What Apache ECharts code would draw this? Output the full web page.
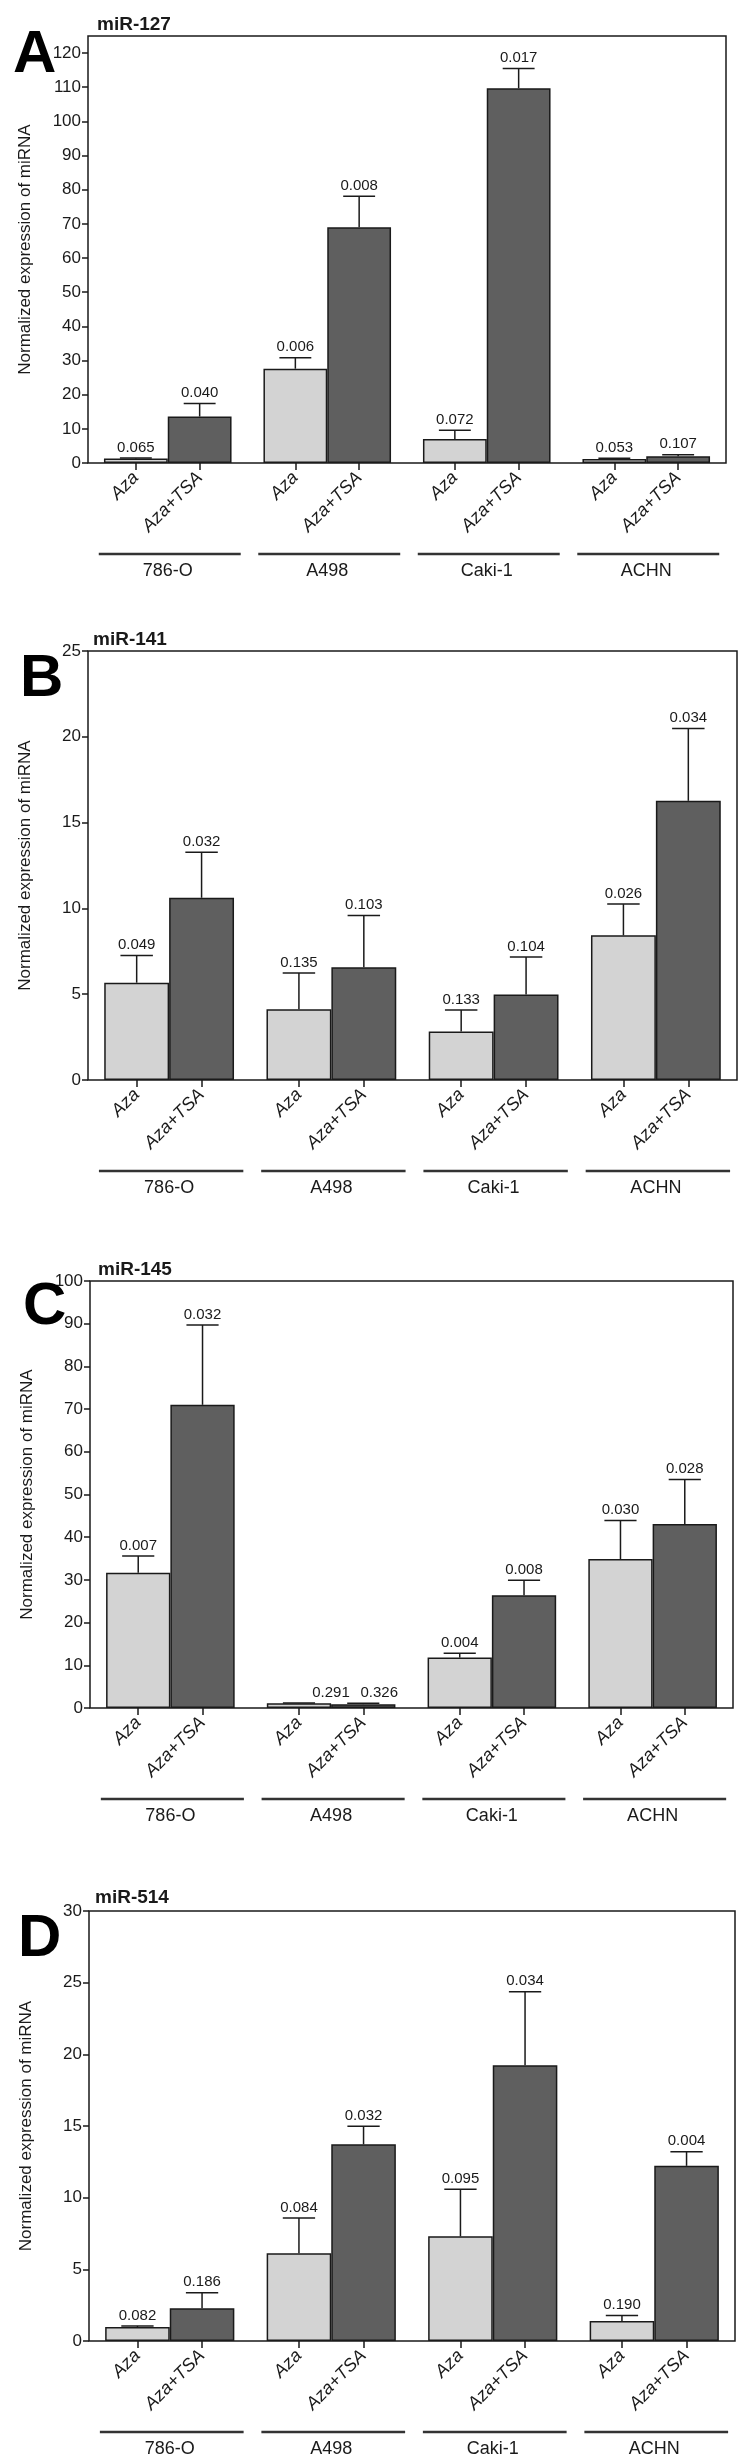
<!DOCTYPE html>
<html>
<head>
<meta charset="utf-8">
<script src="https://cdn.jsdelivr.net/npm/echarts@6/dist/echarts.min.js"></script>
<style>
html,body{margin:0;padding:0;background:#fff;}
#chart{width:744px;height:2462px;}
</style>
</head>
<body>
<div id="chart"></div>
<script>
// ---------- data ----------
const cellLines = ['786-O', 'A498', 'Caki-1', 'ACHN'];
const treatments = ['Aza', 'Aza+TSA'];
const panelLetters = ['A', 'B', 'C', 'D'];
const miRNAs = ['miR-127', 'miR-141', 'miR-145', 'miR-514'];
const yMax = [125, 25, 100, 30];
const yStep = [10, 5, 10, 5];

// miR-127
const aza127 = [1.3, 27.6, 7.0, 1.2];
const aza127Sd = [0.2, 3.2, 2.6, 0.2];
const tsa127 = [13.6, 69.0, 109.7, 2.0];
const tsa127Sd = [3.8, 9.1, 5.8, 0.4];
const aza127P = ['0.065', '0.006', '0.072', '0.053'];
const tsa127P = ['0.040', '0.008', '0.017', '0.107'];
// miR-141
const aza141 = [5.67, 4.12, 2.83, 8.43];
const aza141Sd = [1.59, 2.12, 1.25, 1.82];
const tsa141 = [10.62, 6.57, 4.98, 16.27];
const tsa141Sd = [2.65, 3.02, 2.19, 4.21];
const aza141P = ['0.049', '0.135', '0.133', '0.026'];
const tsa141P = ['0.032', '0.103', '0.104', '0.034'];
// miR-145
const aza145 = [31.7, 1.1, 11.8, 34.9];
const aza145Sd = [3.9, 0.1, 1.0, 9.0];
const tsa145 = [71.0, 0.9, 26.4, 43.1];
const tsa145Sd = [18.7, 0.2, 3.5, 10.4];
const aza145P = ['0.007', '0.291', '0.004', '0.030'];
const tsa145P = ['0.032', '0.326', '0.008', '0.028'];
// miR-514
const aza514 = [0.97, 6.12, 7.30, 1.40];
const aza514Sd = [0.08, 2.47, 3.28, 0.38];
const tsa514 = [2.28, 13.72, 19.23, 12.22];
const tsa514Sd = [1.08, 1.26, 5.13, 0.99];
const aza514P = ['0.082', '0.084', '0.095', '0.190'];
const tsa514P = ['0.186', '0.032', '0.034', '0.004'];

const panels = [
  {mean: [aza127, tsa127], sd: [aza127Sd, tsa127Sd], p: [aza127P, tsa127P]},
  {mean: [aza141, tsa141], sd: [aza141Sd, tsa141Sd], p: [aza141P, tsa141P]},
  {mean: [aza145, tsa145], sd: [aza145Sd, tsa145Sd], p: [aza145P, tsa145P]},
  {mean: [aza514, tsa514], sd: [aza514Sd, tsa514Sd], p: [aza514P, tsa514P]}
];

// ---------- layout / style ----------
const grids = [
  {left: 88, top: 36, width: 638, height: 427},
  {left: 88, top: 651, width: 649, height: 429},
  {left: 90, top: 1281, width: 643, height: 427},
  {left: 89, top: 1911, width: 646, height: 430}
];
const titleLeft = [92, 88, 93, 90];
const titleTop = [10, 625, 1255, 1883];
const letterLeft = [8, 15, 18, 13];
const letterTop = [20, 644, 1272, 1904];
// horizontal nudge (px) for a few value labels, keyed panel-category-series
const labelNudge = {'2-1-0': 32, '2-1-1': 16};

const FONT = '"Liberation Sans", Arial, Helvetica, sans-serif';
const INK = '#1a1a1a';
const barColors = ['#d3d3d3', '#5f5f5f'];

const option = {
  animation: false,
  backgroundColor: '#fff',
  textStyle: {fontFamily: FONT, color: INK},
  title: [],
  grid: [],
  xAxis: [],
  yAxis: [],
  series: []
};

panels.forEach((pd, p) => {
  option.title.push({
    text: miRNAs[p], left: titleLeft[p], top: titleTop[p],
    textStyle: {fontFamily: FONT, fontWeight: 'bold', fontSize: 19, color: INK}
  });
  option.title.push({
    text: panelLetters[p], left: letterLeft[p], top: letterTop[p],
    textStyle: {fontFamily: FONT, fontWeight: 'bold', fontSize: 60, color: '#000'}
  });
  option.grid.push(Object.assign({
    show: true, borderColor: INK, borderWidth: 1.5, backgroundColor: 'transparent',
    containLabel: false
  }, grids[p]));

  // category axis (cell lines) – bars live here, group names shown far below
  option.xAxis.push({
    type: 'category', gridIndex: p, position: 'bottom', data: cellLines,
    axisLine: {show: false}, axisTick: {show: false},
    axisLabel: {margin: 99, fontSize: 18, fontFamily: FONT, color: INK},
    splitLine: {show: false}
  });
  // value axis in category units – tick marks & rotated treatment labels at bar centres
  const tickVals = [];
  cellLines.forEach((c, i) => { tickVals.push(i + 0.3); tickVals.push(i + 0.7); });
  option.xAxis.push({
    type: 'value', gridIndex: p, position: 'bottom', min: 0, max: cellLines.length,
    axisLine: {show: false}, splitLine: {show: false},
    axisTick: {show: true, customValues: tickVals, length: 7, lineStyle: {color: INK, width: 1.5}},
    axisLabel: {
      customValues: tickVals, rotate: 45, margin: 12, fontSize: 18, fontStyle: 'italic',
      fontFamily: FONT, color: INK,
      formatter: v => treatments[(v - Math.floor(v)) < 0.5 ? 0 : 1]
    }
  });
  option.yAxis.push({
    type: 'value', gridIndex: p, min: 0, max: yMax[p], interval: yStep[p],
    axisLine: {show: false},
    axisTick: {show: true, length: 6, lineStyle: {color: INK, width: 1.5}},
    axisLabel: {fontSize: 17, margin: 7, color: INK, fontFamily: FONT,
      showMaxLabel: yMax[p] % yStep[p] === 0},
    splitLine: {show: false},
    name: 'Normalized expression of miRNA', nameLocation: 'middle', nameRotate: 90,
    nameGap: 54, nameTextStyle: {fontSize: 17, fontFamily: FONT, color: INK}
  });

  treatments.forEach((t, s) => {
    option.series.push({
      type: 'bar', name: t, xAxisIndex: 2 * p, yAxisIndex: p,
      data: pd.mean[s], barGap: '0%', barCategoryGap: '20%',
      itemStyle: {color: barColors[s], borderColor: INK, borderWidth: 1.5},
      silent: true, z: 2
    });
  });

  // error bars + p-value labels
  const errData = [];
  treatments.forEach((t, s) => cellLines.forEach((c, i) => errData.push([i, pd.mean[s][i] + pd.sd[s][i]])));
  option.series.push({
    type: 'custom', xAxisIndex: 2 * p, yAxisIndex: p, z: 3, silent: true, clip: false,
    data: errData,
    renderItem: (params, api) => {
      const di = params.dataIndex;
      const s = Math.floor(di / cellLines.length), i = di % cellLines.length;
      const mean = pd.mean[s][i], up = mean + pd.sd[s][i];
      const cw = api.size([1, 0])[0];
      const base = api.coord([i, mean]);
      const x = base[0] + (s === 0 ? -0.2 : 0.2) * cw;
      const yTop = api.coord([i, up])[1];
      const half = 0.1 * cw;
      const nudge = labelNudge[p + '-' + i + '-' + s] || 0;
      return {
        type: 'group',
        children: [
          {type: 'line', shape: {x1: x, y1: base[1], x2: x, y2: yTop}, style: {stroke: INK, lineWidth: 1.5}},
          {type: 'line', shape: {x1: x - half, y1: yTop, x2: x + half, y2: yTop}, style: {stroke: INK, lineWidth: 1.5}},
          {type: 'text', x: x + nudge, y: yTop - 3,
            style: {text: pd.p[s][i], fontSize: 15, fontFamily: FONT, fill: INK, align: 'center', verticalAlign: 'bottom'}}
        ]
      };
    }
  });

  // group underline for each cell line
  option.series.push({
    type: 'custom', xAxisIndex: 2 * p, yAxisIndex: p, z: 3, silent: true, clip: false,
    data: cellLines.map((c, i) => [i, 0]),
    renderItem: (params, api) => {
      const i = params.dataIndex;
      const c = api.coord([i, 0]);
      const cw = api.size([1, 0])[0];
      const y = c[1] + 91;
      return {type: 'line', shape: {x1: c[0] - 0.445 * cw + 2, y1: y, x2: c[0] + 0.445 * cw + 2, y2: y},
        style: {stroke: '#333', lineWidth: 2.5}};
    }
  });
});

const chart = echarts.init(document.getElementById('chart'), null, {renderer: 'canvas', width: 744, height: 2462});
chart.setOption(option);
</script>
</body>
</html>
